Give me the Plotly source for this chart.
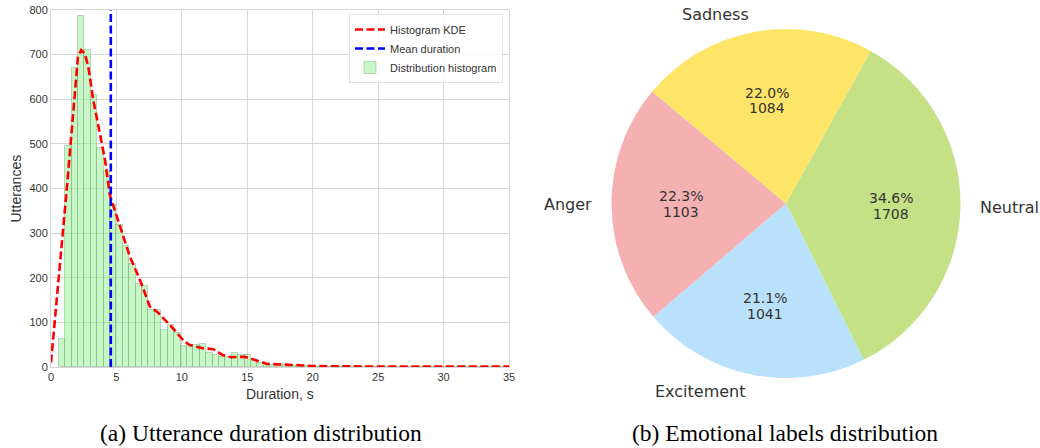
import math
import plotly.graph_objects as go

# ---------------- data ----------------
hist_start = 0.59
bin_width = 0.49
hist_counts = [63, 496, 670, 786, 710, 609, 491, 440, 363, 318,
               272, 230, 186, 182, 128, 128, 83, 94, 76, 46,
               49, 49, 52, 31, 27, 23, 23, 31, 27, 27,
               16, 9, 6, 5, 4, 4, 3, 3, 2, 2,
               1, 1, 1, 1, 1, 0, 1, 0, 1, 0,
               0, 1, 0, 0, 0, 1, 0, 0, 0, 0,
               0, 0, 1, 0, 0, 0, 0, 0, 0, 1]

kde_x = [0, 1.2, 2.06, 2.3, 2.57, 2.85, 3.23, 3.74, 4.13, 4.5, 5.27, 6.03, 6.8, 7.56,
         8.1, 9.1, 10.1, 10.6, 11.6, 12.4, 13.1, 13.8, 14.8, 15.7, 16.5, 19.0, 20.0, 25.0, 30.0, 35.0]
kde_y = [10, 397, 695, 710, 703, 673, 598, 524, 464, 385, 314, 247, 195, 135,
         124, 94, 60, 49, 42, 40, 27, 22, 23, 14, 7, 4, 2, 1, 1, 1]

mean_duration = 4.57

x_ticks = [0, 5, 10, 15, 20, 25, 30, 35]
y_ticks = [0, 100, 200, 300, 400, 500, 600, 700, 800]

# slice order going clockwise from the Neutral/Sadness boundary
emotion_labels = ["Neutral", "Excitement", "Anger", "Sadness"]
emotion_counts = [1708, 1041, 1103, 1084]
emotion_colors = ["#c4e186", "#b9e1fb", "#f5b1b2", "#fee567"]

caption_a = "(a) Utterance duration distribution"
caption_b = "(b) Emotional labels distribution"

# ---------------- layout constants ----------------
W, H = 1040, 448
plot_l, plot_r, plot_t, plot_b = 51, 509, 10, 367
pie_l, pie_r, pie_t, pie_b = 611, 961, 29, 378
pie_start_math = 61.0  # degrees (math convention) where the first slice starts

bin_centers = [hist_start + bin_width * (i + 0.5) for i in range(len(hist_counts))]

fig = go.Figure()

fig.add_trace(go.Bar(
    x=bin_centers, y=hist_counts, width=bin_width,
    name="Distribution histogram",
    marker=dict(color="rgba(144,238,144,0.5)",
                line=dict(color="rgba(90,150,90,0.35)", width=1)),
    legendrank=3,
))
fig.add_trace(go.Scatter(
    x=kde_x, y=kde_y, mode="lines", name="Histogram KDE",
    line=dict(color="#ff0000", width=2.6, dash="8px,3.5px"),
    legendrank=1,
))
fig.add_trace(go.Scatter(
    x=[mean_duration, mean_duration], y=[y_ticks[0], y_ticks[-1]], mode="lines",
    name="Mean duration",
    line=dict(color="#0000ff", width=2.6, dash="8px,3.5px"),
    legendrank=2,
))

fig.add_trace(go.Pie(
    labels=emotion_labels, values=emotion_counts, sort=False,
    direction="clockwise", rotation=90 - pie_start_math,
    marker=dict(colors=emotion_colors, line=dict(width=0)),
    textinfo="none", showlegend=False,
    domain=dict(x=[pie_l / W, pie_r / W], y=[1 - pie_b / H, 1 - pie_t / H]),
))

# ---------------- pie text (matplotlib-style positions) ----------------
cx = (pie_l + pie_r) / 2
cy = (pie_t + pie_b) / 2
r = min(pie_r - pie_l, pie_b - pie_t) / 2
total = sum(emotion_counts)
annotations = []
cum = 0
for lab, val in zip(emotion_labels, emotion_counts):
    frac = val / total
    mid = math.radians(pie_start_math - 360 * (cum + frac / 2))
    cum += frac
    lx = cx + 1.1 * r * math.cos(mid)
    ly = cy - 1.1 * r * math.sin(mid)
    annotations.append(dict(
        x=lx / W, y=1 - ly / H, xref="paper", yref="paper", text=lab, showarrow=False,
        xanchor="right" if math.cos(mid) < 0 else "left", yanchor="middle",
        font=dict(family="DejaVu Sans", size=16, color="#333333"),
    ))
    ix = cx + 0.6 * r * math.cos(mid)
    iy = cy - 0.6 * r * math.sin(mid)
    for dy, txt in ((-7.8, f"{frac * 100:.1f}%"), (7.8, f"{val}")):
        annotations.append(dict(
            x=ix / W, y=1 - (iy + dy) / H, xref="paper", yref="paper", text=txt,
            showarrow=False, xanchor="center", yanchor="middle",
            font=dict(family="DejaVu Sans", size=14, color="#333333"),
        ))

# axis titles
annotations.append(dict(
    x=((plot_l + plot_r) / 2) / W, y=1 - 394 / H, xref="paper", yref="paper",
    text="Duration, s", showarrow=False, xanchor="center", yanchor="middle",
    font=dict(family="Liberation Sans", size=14, color="#333333"),
))
annotations.append(dict(
    x=15 / W, y=1 - ((plot_t + plot_b) / 2) / H, xref="paper", yref="paper",
    text="Utterances", showarrow=False, xanchor="center", yanchor="middle", textangle=-90,
    font=dict(family="Liberation Sans", size=14, color="#333333"),
))
# captions
annotations.append(dict(
    x=261 / W, y=1 - 433 / H, xref="paper", yref="paper", text=caption_a, showarrow=False,
    xanchor="center", yanchor="middle",
    font=dict(family="Liberation Serif", size=23.5, color="#000000"),
))
annotations.append(dict(
    x=785 / W, y=1 - 433 / H, xref="paper", yref="paper", text=caption_b, showarrow=False,
    xanchor="center", yanchor="middle",
    font=dict(family="Liberation Serif", size=23.5, color="#000000"),
))

grid_col = "#d6d6d6"
fig.update_layout(
    width=W, height=H, margin=dict(l=0, r=0, t=0, b=0),
    paper_bgcolor="white", plot_bgcolor="white",
    font=dict(family="Liberation Sans", size=11, color="#333333"),
    bargap=0,
    xaxis=dict(domain=[plot_l / W, plot_r / W], range=[0, 35], tickvals=x_ticks,
               showgrid=True, gridcolor=grid_col, gridwidth=1,
               showline=True, linecolor=grid_col, linewidth=1, mirror=True,
               zeroline=False, ticks="", automargin=False,
               tickfont=dict(size=11, color="#333333")),
    yaxis=dict(domain=[1 - plot_b / H, 1 - plot_t / H], range=[0, 800], tickvals=y_ticks,
               showgrid=True, gridcolor=grid_col, gridwidth=1,
               showline=True, linecolor=grid_col, linewidth=1, mirror=True,
               zeroline=False, ticks="", automargin=False,
               tickfont=dict(size=11, color="#333333")),
    legend=dict(x=503 / W, xanchor="right", y=1 - 14 / H, yanchor="top",
                bgcolor="rgba(255,255,255,0.85)", bordercolor="#e3e3e3", borderwidth=1,
                font=dict(family="Liberation Sans", size=11, color="#333333"),
                traceorder="normal", tracegroupgap=0),
    annotations=annotations,
)

fig.write_html("out.html", config={"displayModeBar": False},
               post_script="document.body.style.margin='0px';document.body.style.overflow='hidden';")
